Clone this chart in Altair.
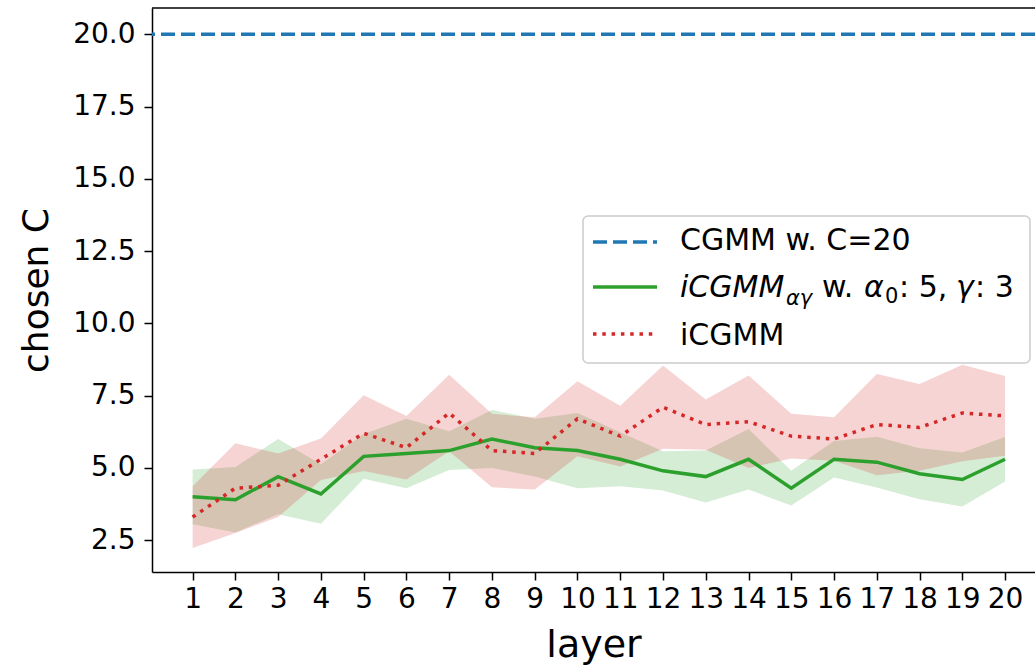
import altair as alt
import pandas as pd

# ---------------- data ----------------
LAYERS = list(range(1, 21))
CGMM_C = 20.0
GREEN_MEAN = [4.0, 3.9, 4.7, 4.1, 5.4, 5.5, 5.6, 6.0, 5.7, 5.6,
              5.3, 4.9, 4.7, 5.3, 4.3, 5.3, 5.2, 4.8, 4.6, 5.3]
GREEN_STD = [0.95, 1.13, 1.30, 1.03, 0.77, 1.20, 0.67, 1.00, 1.00, 1.30,
             0.93, 0.68, 0.90, 1.05, 0.60, 0.63, 0.88, 0.88, 0.93, 0.77]
RED_MEAN = [3.3, 4.3, 4.4, 5.3, 6.2, 5.7, 6.9, 5.6, 5.5, 6.7,
            6.1, 7.1, 6.5, 6.6, 6.1, 6.0, 6.5, 6.4, 6.9, 6.8]
RED_STD = [1.07, 1.55, 1.10, 0.72, 1.31, 1.10, 1.32, 1.27, 1.25, 1.30,
           1.05, 1.44, 0.87, 1.60, 0.77, 0.75, 1.75, 1.50, 1.67, 1.38]
Y_TICKS = [2.5, 5.0, 7.5, 10.0, 12.5, 15.0, 17.5, 20.0]
LEGEND_LABELS = ["CGMM w. C=20", "iCGMM", "iCGMM"]

BLUE, GREEN, RED = "#1f77b4", "#2ca02c", "#d62728"
FONT = "DejaVu Sans"
W, H = 883, 564


def frame(mean, std):
    return pd.DataFrame({
        "layer": LAYERS,
        "mean": mean,
        "lo": [m - s for m, s in zip(mean, std)],
        "hi": [m + s for m, s in zip(mean, std)],
    })


g_df = frame(GREEN_MEAN, GREEN_STD)
r_df = frame(RED_MEAN, RED_STD)

x_scale = alt.Scale(domain=[0.05, 20.7], nice=False, zero=False)
y_scale = alt.Scale(domain=[1.40, 20.91], nice=False, zero=False)

x_enc = alt.X("layer:Q", scale=x_scale,
              axis=alt.Axis(values=LAYERS, format="d", title="layer",
                            labelPadding=5, titleY=84, titleFontSize=38,
                            titleBaseline="alphabetic"))
y_axis = alt.Axis(values=Y_TICKS, format=".1f", title="chosen C",
                  labelPadding=9, titleX=-116, titleY=282,
                  titleAngle=270, titleAlign="center",
                  titleBaseline="middle")


def band(df, color):
    return alt.Chart(df).mark_area(color=color, opacity=0.2).encode(
        x=x_enc,
        y=alt.Y("lo:Q", scale=y_scale, axis=y_axis),
        y2="hi:Q",
    )


green_band = band(g_df, GREEN)
red_band = band(r_df, RED)

green_line = alt.Chart(g_df).mark_line(color=GREEN, strokeWidth=3.5).encode(
    x=x_enc, y=alt.Y("mean:Q", scale=y_scale, axis=y_axis))
red_line = alt.Chart(r_df).mark_line(
    color=RED, strokeWidth=3.5, strokeDash=[3.5, 5.8], strokeCap="butt"
).encode(x=x_enc, y=alt.Y("mean:Q", scale=y_scale, axis=y_axis))

blue_rule = alt.Chart(pd.DataFrame({"c": [CGMM_C]})).mark_rule(
    color=BLUE, strokeWidth=3.5, strokeDash=[14, 6]
).encode(y=alt.Y("c:Q", scale=y_scale, axis=y_axis))

one = pd.DataFrame({"k": [0]})

top_spine = alt.Chart(one).mark_rule(color="black", strokeWidth=1.5).encode(
    x=alt.value(0), x2=alt.value(W), y=alt.value(0))

# ---------------- hand-made legend ----------------
legend_box = alt.Chart(one).mark_rect(
    fill="white", fillOpacity=0.8, stroke="#cccccc", strokeWidth=1.5,
    cornerRadius=5
).encode(x=alt.value(431), x2=alt.value(878), y=alt.value(208),
         y2=alt.value(355))


def handle(color, dash, y):
    kw = dict(color=color, strokeWidth=3.5, strokeCap="butt")
    if dash:
        kw["strokeDash"] = dash
    return alt.Chart(one).mark_rule(**kw).encode(
        x=alt.value(441), x2=alt.value(505), y=alt.value(y))


def txt(s, x, y, size=30, style="normal"):
    return alt.Chart(one).mark_text(
        text=s, font=FONT, fontSize=size, fontStyle=style, align="left",
        baseline="alphabetic", color="black"
    ).encode(x=alt.value(x), y=alt.value(y))


legend = [
    legend_box,
    handle(BLUE, [14, 6], 234),
    handle(GREEN, None, 279),
    handle(RED, [3.5, 5.8], 326),
    txt(LEGEND_LABELS[0], 528, 242),
    txt(LEGEND_LABELS[1], 528, 289, style="italic"),
    txt("αγ", 634, 297, size=21, style="italic"),
    txt("w.", 670, 289),
    txt("α", 712, 289, style="italic"),
    txt("0", 733, 295, size=21),
    txt(": 5,", 747, 289),
    txt("γ", 804, 289, style="italic"),
    txt(": 3", 823, 289),
    txt(LEGEND_LABELS[2], 528, 337),
]

chart = alt.layer(
    green_band, red_band, blue_rule, green_line, red_line, top_spine, *legend
).properties(
    width=W, height=H, autosize="none",
    padding={"left": 152, "top": 8, "right": 0, "bottom": 95},
).configure_view(stroke=None).configure_axis(
    labelFont=FONT, titleFont=FONT, labelFontSize=28, titleFontSize=36,
    titleFontWeight="normal", labelColor="black", titleColor="black",
    tickColor="black", domainColor="black", domainWidth=1.5, tickWidth=1.5,
    tickSize=8, grid=False,
)

chart.save("out.html", embed_options={"renderer": "svg", "actions": False})
